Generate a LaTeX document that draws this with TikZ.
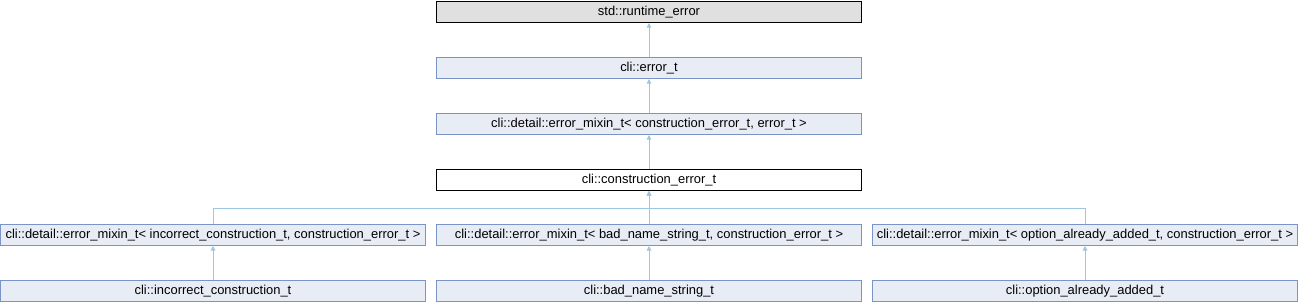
\documentclass[tikz,border=0pt]{standalone}
\usepackage{fontspec}
\setmainfont{Liberation Sans}
\usetikzlibrary{arrows.meta,positioning}
\definecolor{clsfill}{HTML}{E8ECF5}
\definecolor{clsline}{HTML}{7A94C8}
\definecolor{inhline}{HTML}{9DC6E3}
\definecolor{rootfill}{HTML}{E0E0E0}

\begin{document}
\begin{tikzpicture}[
  font=\fontsize{9.7}{11}\selectfont, node distance=25.5pt and 7.5pt,
  b/.style={draw=clsline,line width=0.75pt,fill=clsfill,minimum width=318.75pt,minimum height=15.75pt,inner sep=0pt},
  broot/.style={b,draw=black,fill=rootfill},
  bcur/.style={b,draw=black,fill=white},
  a/.style={draw=inhline,line width=0.75pt,-{Triangle[length=3.5pt,width=3.5pt]}}]
\useasboundingbox (0,0) rectangle (973.5pt,-228pt);
\node[broot] (rt) at (486.75pt,-9pt) {std::runtime\_error};
\node[b,below=of rt] (err) {cli::error\_t};
\node[b,below=of err] (mx) {cli::detail::error\_mixin\_t< construction\_error\_t, error\_t >};
\node[bcur,below=of mx] (ce) {cli::construction\_error\_t};
\node[b,below=24.75pt of ce] (mbad) {cli::detail::error\_mixin\_t< bad\_name\_string\_t, construction\_error\_t >};
\node[b,left=of mbad] (minc) {cli::detail::error\_mixin\_t< incorrect\_construction\_t, construction\_error\_t >};
\node[b,right=of mbad] (mopt) {cli::detail::error\_mixin\_t< option\_already\_added\_t, construction\_error\_t >};
\node[b,below=of mbad] (bad) {cli::bad\_name\_string\_t};
\node[b,below=of minc] (inc) {cli::incorrect\_construction\_t};
\node[b,below=of mopt] (opt) {cli::option\_already\_added\_t};
\coordinate (bus) at ([yshift=-12.75pt]ce.south);
\draw[a](err)--(rt);\draw[a](mx)--(err);\draw[a](ce)--(mx);
\draw[a](minc.north)|-(bus)--(ce);\draw[a](mbad)--(ce);\draw[a](mopt.north)|-(bus)--(ce);
\draw[a](inc)--(minc);\draw[a](bad)--(mbad);\draw[a](opt)--(mopt);
\end{tikzpicture}
\end{document}
